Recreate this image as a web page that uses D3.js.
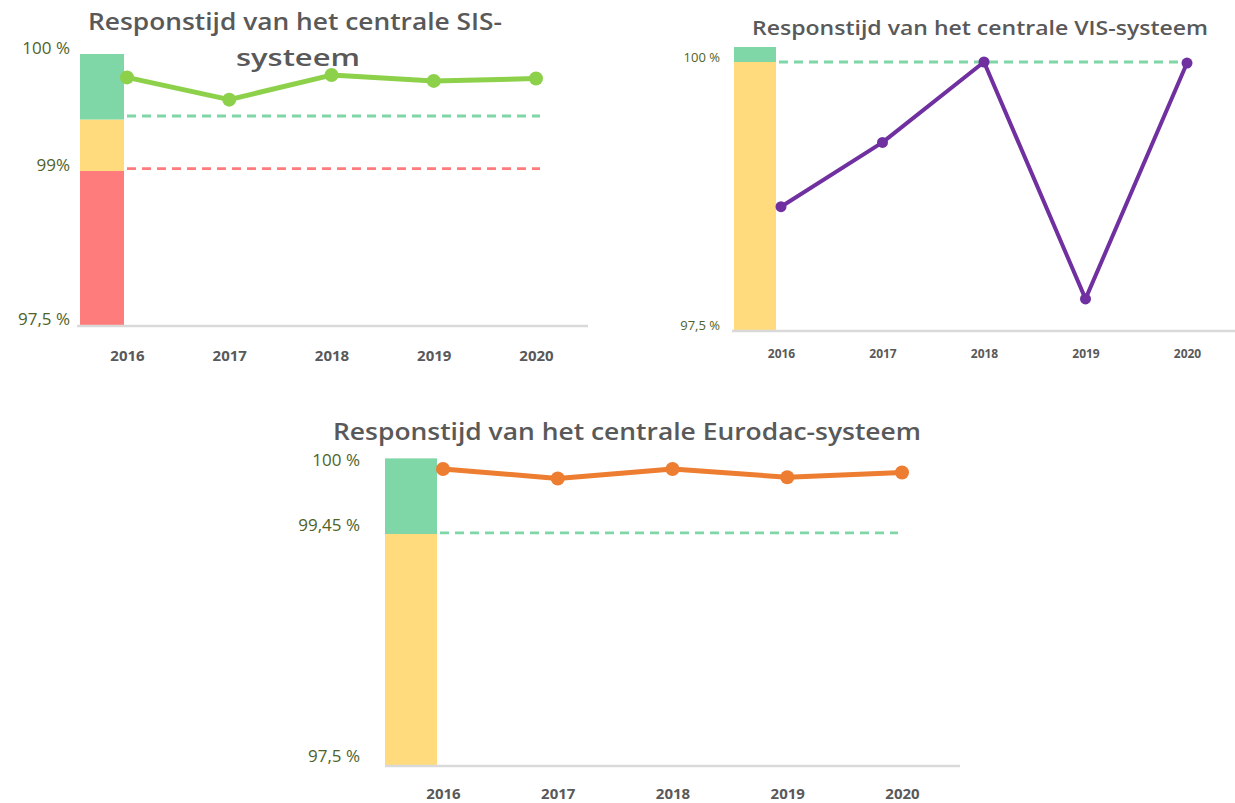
<!DOCTYPE html>
<html>
<head>
<meta charset="utf-8">
<script src="https://cdn.jsdelivr.net/npm/d3@7"></script>
<style>
html,body{margin:0;padding:0;background:#fff;}
svg{display:block;}
.ttl{font-family:"Open Sans",sans-serif;font-weight:600;fill:#595959;}
.ylab{font-family:"Open Sans",sans-serif;fill:#4f6228;}
.xlab{font-family:"Open Sans",sans-serif;font-weight:700;fill:#595959;}
</style>
</head>
<body>
<svg id="chart" width="1235" height="803"></svg>
<script>
// data
const years=['2016','2017','2018','2019','2020'];

const sisValues=[99.80,99.61,99.82,99.77,99.79];
const sisTicks=[97.5,99,100];
const sisTickLabels=['97,5 %','99%','100 %'];
const sisBands=[97.5,99,99.44,100];
const sisGreenLine=99.47, sisRedLine=99.02;

const visValues=[98.65,99.25,100.0,97.79,99.99];
const visTicks=[97.5,100];
const visTickLabels=['97,5 %','100 %'];
const visBands=[97.5,100,100.14];
const visGreenLine=100;

const euroValues=[100.0,99.92,100.0,99.93,99.97];
const euroTicks=[97.5,99.45,100];
const euroTickLabels=['97,5 %','99,45 %','100 %'];
const euroBands=[97.5,99.45,100.09];
const euroGreenLine=99.46;

const GREEN='#7fd6a6',YELLOW='#ffdb7d',RED='#ff7c7c';
const svg=d3.select('#chart');

function drawChart(o){
  const g=svg.append('g');
  const x=d3.scalePoint().domain(years).range(o.xr);
  const y=d3.scaleLinear().domain(o.ticks).range(o.yr);

  // title
  o.title.forEach(t=>{
    g.append('text').attr('class','ttl').attr('x',t.x).attr('y',t.y)
      .attr('text-anchor','middle').attr('font-size',o.titleSize)
      .attr('textLength',t.w).attr('lengthAdjust','spacingAndGlyphs').text(t.s);
  });

  // colored status bar
  for(let i=0;i<o.bands.length-1;i++){
    g.append('rect').attr('x',o.barX).attr('width',o.barW)
      .attr('y',y(o.bands[i+1])).attr('height',y(o.bands[i])-y(o.bands[i+1]))
      .attr('fill',o.bandColors[i]);
  }

  // baseline
  g.append('line').attr('x1',o.base[0]).attr('x2',o.base[1])
    .attr('y1',y(o.ticks[0])+1).attr('y2',y(o.ticks[0])+1)
    .attr('stroke','#d9d9d9').attr('stroke-width',2.5);

  // dashed thresholds
  o.dashes.forEach(d=>{
    g.append('line').attr('x1',o.barX+o.barW+3).attr('x2',d.x2)
      .attr('y1',y(d.v)).attr('y2',y(d.v))
      .attr('stroke',d.c).attr('stroke-width',2.8).attr('stroke-dasharray','9,6');
  });

  // y labels
  const ya=d3.axisLeft(y).tickValues(o.ticks).tickSize(0).tickPadding(0)
    .tickFormat((d,i)=>o.tickLabels[i]);
  const yg=g.append('g').attr('transform',`translate(${o.ylabX},0)`).call(ya);
  yg.select('.domain').remove();
  yg.selectAll('text').attr('class','ylab').attr('font-size',o.ylabSize)
    .attr('fill','#4f6228').attr('dy',o.ylabDy);

  // x labels
  const xa=d3.axisBottom(x).tickSize(0).tickPadding(0);
  const xg=g.append('g').attr('transform',`translate(0,${o.xlabY})`).call(xa);
  xg.select('.domain').remove();
  xg.selectAll('text').attr('class','xlab').attr('font-size',o.xlabSize).attr('fill','#595959');

  // line + markers
  const line=d3.line().x((d,i)=>x(years[i])).y(d=>y(d));
  g.append('path').datum(o.values).attr('d',line).attr('fill','none')
    .attr('stroke',o.color).attr('stroke-width',o.lw).attr('stroke-linejoin','round');
  g.selectAll('circle.m').data(o.values).enter().append('circle')
    .attr('cx',(d,i)=>x(years[i])).attr('cy',d=>y(d)).attr('r',o.r).attr('fill',o.color);
}

drawChart({
  values:sisValues,ticks:sisTicks,tickLabels:sisTickLabels,
  bands:sisBands,bandColors:[RED,YELLOW,GREEN],
  xr:[127,536],yr:[325,171,54],
  barX:80,barW:44,base:[77,588],
  dashes:[{v:sisGreenLine,c:GREEN,x2:540},{v:sisRedLine,c:RED,x2:540}],
  title:[{s:'Responstijd van het centrale SIS-',x:295,y:30,w:414},{s:'systeem',x:298,y:66,w:124}],
  titleSize:24,ylabX:70,ylabSize:17,ylabDy:'-0.05em',
  xlabY:350,xlabSize:15,color:'#8dd14a',lw:5,r:7
});

drawChart({
  values:visValues,ticks:visTicks,tickLabels:visTickLabels,
  bands:visBands,bandColors:[YELLOW,GREEN],
  xr:[781,1187],yr:[330,62],
  barX:734,barW:42,base:[732,1235],
  dashes:[{v:visGreenLine,c:GREEN,x2:1190}],
  title:[{s:'Responstijd van het centrale VIS-systeem',x:980,y:35,w:456}],
  titleSize:20,ylabX:720,ylabSize:13,ylabDy:'-0.05em',
  xlabY:349,xlabSize:12,color:'#7030a0',lw:4,r:5.5
});

drawChart({
  values:euroValues,ticks:euroTicks,tickLabels:euroTickLabels,
  bands:euroBands,bandColors:[YELLOW,GREEN],
  xr:[443,902],yr:[765,534,469],
  barX:385,barW:52,base:[385,960],
  dashes:[{v:euroGreenLine,c:GREEN,x2:898}],
  title:[{s:'Responstijd van het centrale Eurodac-systeem',x:627,y:440,w:588}],
  titleSize:24,ylabX:360,ylabSize:17,ylabDy:'-0.2em',
  xlabY:788,xlabSize:15,color:'#ed7d31',lw:5,r:7
});
</script>
</body>
</html>
